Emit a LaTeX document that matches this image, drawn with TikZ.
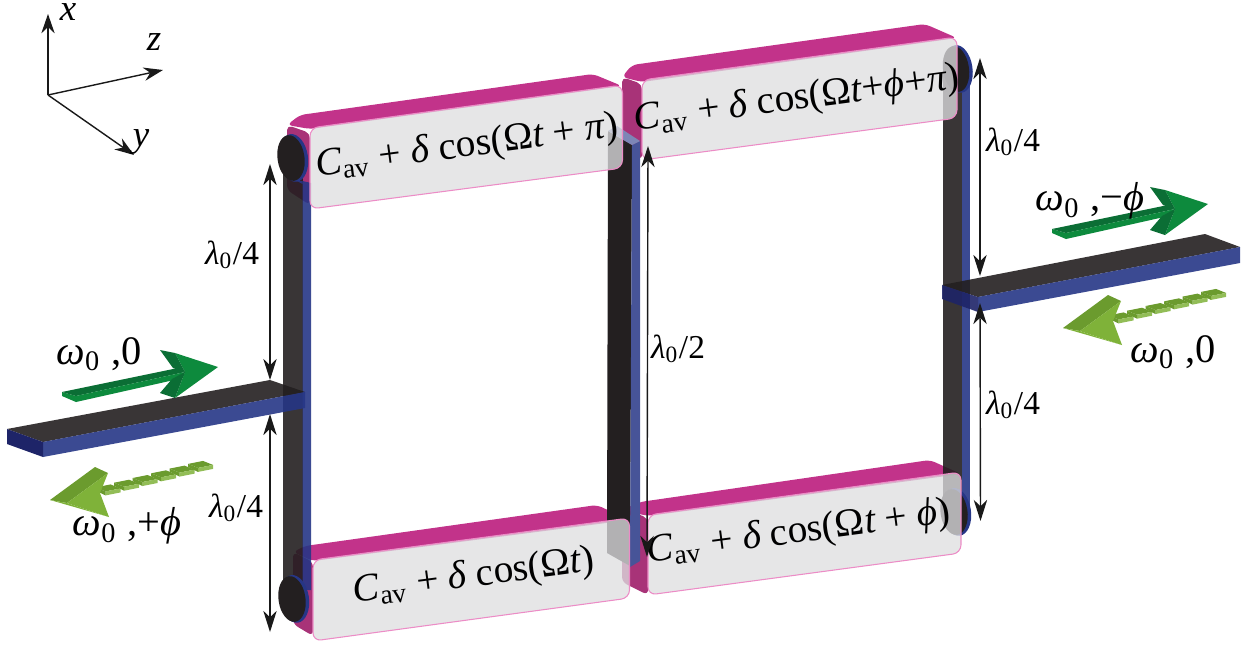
\documentclass[tikz,border=0pt]{standalone}
\usepackage{fontspec}
\setmainfont{Liberation Serif}
\usetikzlibrary{arrows.meta}
\definecolor{boxtop}{HTML}{C2338A}
\definecolor{boxside}{HTML}{A83378}
\definecolor{boxfront}{HTML}{DEDEE0}
\definecolor{boxedge}{HTML}{EC8CC6}
\definecolor{stripblack}{HTML}{231F20}
\definecolor{stripblue}{HTML}{263686}
\definecolor{barside}{HTML}{1E2468}
\definecolor{darkgreen}{HTML}{0B6E35}
\definecolor{midgreen}{HTML}{0D8A3D}
\definecolor{dullgreen}{HTML}{6B9B2E}
\definecolor{leafgreen}{HTML}{7FB239}
\newcommand{\Cav}{{\itshape C}\textsubscript{av}}
\newcommand{\wzero}{{\itshape ω}\textsubscript{0}}
\newcommand{\lamfrac}[1]{{\itshape λ}\textsubscript{0}/#1}
\tikzset{
    boxface/.style={fill=boxfront, fill opacity=0.77, draw=boxedge, line width=0.3pt, rounded corners=2.3pt},
    boxlid/.style={fill=boxtop, rounded corners=1.5pt},
    boxwall/.style={fill=boxside, rounded corners=1.5pt},
    formula/.style={font=\fontsize{11.2}{12}\selectfont, rotate=7.5, inner sep=0pt},
    dimlabel/.style={font=\fontsize{9.5}{11}\selectfont, inner sep=0pt},
    freqlabel/.style={font=\fontsize{11.5}{13}\selectfont, inner sep=0pt},
    axislabel/.style={font=\fontsize{10.5}{12}\selectfont\itshape, inner sep=0pt},
    dimarrow/.style={draw=black!90, line width=0.4pt, {Stealth[length=6pt,width=3.8pt,inset=1.8pt]}-{Stealth[length=6pt,width=3.8pt,inset=1.8pt]}},
    axisarrow/.style={draw=black!90, line width=0.4pt, -{Stealth[length=5.5pt,width=3.8pt,inset=1.8pt]}},
    darkpart/.style={fill=stripblack, fill opacity=0.9},
    bluepart/.style={fill=stripblue, fill opacity=0.9},
}
% one dark green arrow, tail corner at (62,392) before the shift
\newcommand{\forwardarrow}[1]{
    \begin{scope}[shift={#1}]
        \fill[midgreen] (62,392) -- (76,396) -- (76,402) -- (62,396) -- cycle;
        \fill[darkgreen] (62,392) -- (178,368) -- (185,372) -- (76,396) -- cycle;
        \fill[midgreen] (76,396) -- (185,372) -- (183,378) -- (76,402) -- cycle;
        \fill[midgreen] (175,353) -- (218,367) -- (175,398) -- (185,372) -- cycle;
        \fill[darkgreen] (160,350) -- (175,353) -- (185,372) -- (173,368) -- cycle;
        \fill[darkgreen] (185,372) -- (175,398) -- (160,393) -- (172,379) -- cycle;
    \end{scope}
}
% one light green arrow with its broken tail
\newcommand{\backwardarrow}[1]{
    \begin{scope}[shift={#1}]
        \foreach \k in {0,...,5} {
            \begin{scope}[shift={(95.5+18.5*\k,487.4-4.7*\k)}]
                \fill[dullgreen] (0,0) -- (15,-3) -- (25,1) -- (10,4) -- cycle;
                \fill[leafgreen!85!white] (10,4) -- (25,1) -- (25,5) -- (10,8) -- cycle;
                \fill[dullgreen] (0,0) -- (10,4) -- (10,8) -- (0,3) -- cycle;
            \end{scope}
        }
        \fill[dullgreen] (50,500) -- (95,467) -- (108,473) -- (67,503) -- cycle;
        \fill[leafgreen] (67,503) -- (108,473) -- (100,493) -- (109,517) -- cycle;
        \fill[leafgreen] (50,500) -- (67,503) -- (109,517) -- cycle;
    \end{scope}
}

\begin{document}
\begin{tikzpicture}[x=0.01cm, y=-0.01cm]
    \useasboundingbox (0,0) rectangle (1248,645);

    % lids and walls of the four boxes
    \fill[boxlid] (622,77) -- (632,65) -- (925,24) -- (957,38) -- (642,82) -- cycle;
    \fill[boxwall] (622,77) -- (642,84) -- (642,160) -- (622,146) -- cycle;
    \fill[boxlid] (622,510) -- (640,502) -- (930,460) -- (961,474) -- (648,516) -- cycle;
    \fill[boxwall] (622,508) -- (648,518) -- (648,595) -- (622,582) -- cycle;
    \fill[boxlid] (287,125) -- (300,115) -- (593,74) -- (622,86) -- (310,129) -- cycle;
    \fill[boxwall] (287,125) -- (310,133) -- (310,205) -- (287,190) -- cycle;
    \fill[boxlid] (293,552) -- (305,546) -- (597,505) -- (629,520) -- (313,561) -- cycle;
    \fill[boxwall] (293,552) -- (313,562) -- (313,636) -- (293,624) -- cycle;

    % left strip
    \fill[darkpart] (283,158) rectangle (302.5,600);
    \fill[bluepart] (302.5,181) -- (311,183) -- (311,590) -- (302.5,590) -- cycle;
    \fill[bluepart] (297,181) -- (302.5,181) -- (302.5,184) -- cycle;

    % middle strip
    \fill[stripblack] (608,131) -- (632,145) -- (630,566) -- (607,553) -- cycle;
    \fill[stripblue!85!white] (632,145) -- (640,141) -- (640,561) -- (630,567) -- cycle;
    \fill[stripblue!60!white] (608,131) -- (617,126) -- (640,141) -- (632,145) -- cycle;

    % right strip
    \fill[darkpart] (943,69) rectangle (962,512);
    \fill[bluepart] (962,69) rectangle (970,512);

    % discs at the strip ends
    \fill[stripblue, rotate around={8:(293,158)}] (293.5,158) ellipse (14.5 and 24);
    \fill[stripblack, rotate around={8:(291,158)}] (291,158) ellipse (13.5 and 23);
    \fill[stripblue, rotate around={8:(294,599)}] (294.5,599) ellipse (14.5 and 24);
    \fill[stripblack, rotate around={8:(292,599)}] (292,599) ellipse (13.5 and 23);
    \fill[stripblue, rotate around={8:(958,69)}] (958.5,69) ellipse (14 and 24);
    \fill[stripblack, rotate around={8:(956,69)}] (956,69) ellipse (13 and 23);
    \fill[stripblue, rotate around={8:(956,512)}] (956.5,512) ellipse (14.5 and 24);
    \fill[stripblack, rotate around={8:(954,512)}] (954,512) ellipse (13.5 and 23);

    % box fronts, see-through over the strips
    \draw[boxface] (642,80) -- (957,37) -- (957,118) -- (642,160) -- cycle;
    \draw[boxface] (648,515) -- (961,472) -- (961,553) -- (648,595) -- cycle;
    \draw[boxface] (310,128) -- (622.5,85) -- (622.5,168) -- (310,209) -- cycle;
    \draw[boxface] (313,560) -- (629.5,518) -- (629.5,598) -- (313,641) -- cycle;

    % input and output bars
    \fill[darkpart] (7,429) -- (270,380) -- (305,392) -- (43,442) -- cycle;
    \fill[bluepart] (43,442) -- (305,392) -- (305,408) -- (43,457) -- cycle;
    \fill[barside] (7,429) -- (43,442) -- (43,457) -- (7,444) -- cycle;
    \fill[darkpart] (942,285) -- (1205,234) -- (1240,247) -- (978,297) -- cycle;
    \fill[bluepart] (978,297) -- (1240,247) -- (1240,263) -- (978,312) -- cycle;
    \fill[barside, fill opacity=0.9] (942,285) -- (978,297) -- (978,312) -- (942,299) -- cycle;

    % wave arrows
    \forwardarrow{(0,0)}
    \forwardarrow{(990,-163)}
    \backwardarrow{(0,0)}
    \backwardarrow{(1013,-172)}

    % box formulas
    \node[formula] (topleft) at (467,147) {\Cav{} + {\itshape δ} cos(Ω{\itshape t} + {\itshape π})};
    \node[formula] (bottomleft) at (474,577) {\Cav{} + {\itshape δ} cos(Ω{\itshape t})};
    \node[formula] (topright) at (797,100) {\Cav{} + {\itshape δ} cos(Ω{\itshape t}+{\itshape ϕ}+{\itshape π})};
    \node[formula] (bottomright) at (799,533) {\Cav{} + {\itshape δ} cos(Ω{\itshape t} + {\itshape ϕ})};

    % quarter and half wave marks
    \coordinate (lefta) at (270,164);
    \coordinate (leftb) at (270,380);
    \coordinate (leftc) at (270,414);
    \coordinate (leftd) at (270,632);
    \coordinate (mida) at (648,146);
    \coordinate (midb) at (647,557);
    \coordinate (righta) at (980,58);
    \coordinate (rightb) at (980,276);
    \coordinate (rightc) at (980,303);
    \coordinate (rightd) at (980.5,521);
    \draw[dimarrow] (lefta) -- (leftb);
    \draw[dimarrow] (leftc) -- (leftd);
    \draw[dimarrow] (mida) -- (midb);
    \draw[dimarrow] (righta) -- (rightb);
    \draw[dimarrow] (rightc) -- (rightd);
    \node[dimlabel] (quarterone) at (232,255) {\lamfrac{4}};
    \node[dimlabel] (quartertwo) at (236,508) {\lamfrac{4}};
    \node[dimlabel] (halfmid) at (678,349) {\lamfrac{2}};
    \node[dimlabel] (quarterthree) at (1013,142) {\lamfrac{4}};
    \node[dimlabel] (quarterfour) at (1013,405) {\lamfrac{4}};

    % frequency and phase labels
    \node[freqlabel] (inforward) at (99,354) {\wzero{} ,0};
    \node[freqlabel] (inbackward) at (127,526) {\wzero{} ,+{\itshape ϕ}};
    \node[freqlabel] (outforward) at (1090,201) {\wzero{} ,−{\itshape ϕ}};
    \node[freqlabel] (outbackward) at (1173,352) {\wzero{} ,0};

    % axes
    \coordinate (origin) at (48,95);
    \coordinate (xtip) at (48,14);
    \coordinate (ztip) at (163,70);
    \coordinate (ytip) at (134,155);
    \draw[axisarrow] (origin) -- (xtip);
    \draw[axisarrow] (origin) -- (ztip);
    \draw[axisarrow] (origin) -- (ytip);
    \node[axislabel] (xname) at (68,12) {x};
    \node[axislabel] (zname) at (154,42) {z};
    \node[axislabel] (yname) at (141,142) {y};
\end{tikzpicture}
\end{document}
